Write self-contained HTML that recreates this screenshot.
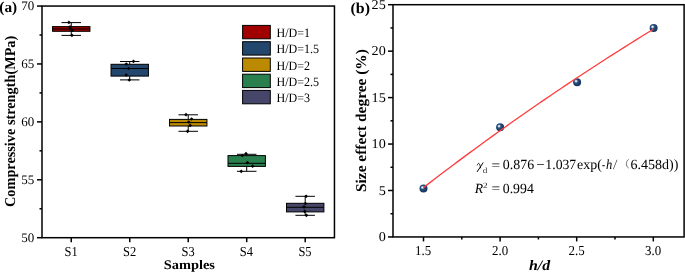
<!DOCTYPE html>
<html><head><meta charset="utf-8"><style>
html,body{margin:0;padding:0;background:#fff;width:685px;height:272px;overflow:hidden}
svg{display:block}
text{font-family:"Liberation Serif",serif}
</style></head><body>
<svg width="685" height="272" viewBox="0 0 685 272" text-rendering="geometricPrecision" style="will-change:transform"><defs><radialGradient id="sph" cx="0.4" cy="0.4" r="0.65" fx="0.36" fy="0.36">
<stop offset="0" stop-color="#ffffff"/><stop offset="0.15" stop-color="#c4d2e2"/><stop offset="0.36" stop-color="#284f7e"/><stop offset="0.7" stop-color="#1b3e69"/><stop offset="1" stop-color="#14335a"/></radialGradient></defs><line x1="71.25" y1="22.6" x2="71.25" y2="26.6" stroke="#000" stroke-width="1"/>
<line x1="71.25" y1="31.3" x2="71.25" y2="35.4" stroke="#000" stroke-width="1"/>
<line x1="61.50" y1="22.6" x2="81.00" y2="22.6" stroke="#000" stroke-width="1"/>
<line x1="61.50" y1="35.4" x2="81.00" y2="35.4" stroke="#000" stroke-width="1"/>
<rect x="52.55" y="26.6" width="37.4" height="4.70" fill="#A00000" stroke="#000" stroke-width="1"/>
<line x1="52.55" y1="29.0" x2="89.95" y2="29.0" stroke="#000" stroke-width="1"/>
<path d="M68.9,20.55L70.75,22.4L68.9,24.25L67.05,22.4Z" fill="#000"/>
<path d="M70.0,25.05L71.85,26.9L70.0,28.75L68.15,26.9Z" fill="#000"/>
<path d="M70.1,26.85L71.95,28.7L70.1,30.55L68.25,28.7Z" fill="#000"/>
<path d="M72.2,28.65L74.05,30.5L72.2,32.35L70.35,30.5Z" fill="#000"/>
<path d="M71.9,33.45L73.75,35.3L71.9,37.15L70.05,35.3Z" fill="#000"/>
<line x1="129.73" y1="61.5" x2="129.73" y2="64.3" stroke="#000" stroke-width="1"/>
<line x1="129.73" y1="76.1" x2="129.73" y2="79.9" stroke="#000" stroke-width="1"/>
<line x1="119.98" y1="61.5" x2="139.48" y2="61.5" stroke="#000" stroke-width="1"/>
<line x1="119.98" y1="79.9" x2="139.48" y2="79.9" stroke="#000" stroke-width="1"/>
<rect x="111.03" y="64.3" width="37.4" height="11.80" fill="#23476C" stroke="#000" stroke-width="1"/>
<line x1="111.03" y1="68.5" x2="148.43" y2="68.5" stroke="#000" stroke-width="1"/>
<path d="M133.5,59.45L135.35,61.3L133.5,63.15L131.65,61.3Z" fill="#000"/>
<path d="M126.3,62.15L128.15,64.0L126.3,65.85L124.45,64.0Z" fill="#000"/>
<path d="M128.5,66.65L130.35,68.5L128.5,70.35L126.65,68.5Z" fill="#000"/>
<path d="M126.2,73.15L128.05,75.0L126.2,76.85L124.35,75.0Z" fill="#000"/>
<path d="M129.3,78.15L131.15,80.0L129.3,81.85L127.45,80.0Z" fill="#000"/>
<line x1="188.22" y1="114.8" x2="188.22" y2="119.4" stroke="#000" stroke-width="1"/>
<line x1="188.22" y1="126.0" x2="188.22" y2="131.3" stroke="#000" stroke-width="1"/>
<line x1="178.47" y1="114.8" x2="197.97" y2="114.8" stroke="#000" stroke-width="1"/>
<line x1="178.47" y1="131.3" x2="197.97" y2="131.3" stroke="#000" stroke-width="1"/>
<rect x="169.53" y="119.4" width="37.4" height="6.60" fill="#BB8A00" stroke="#000" stroke-width="1"/>
<line x1="169.53" y1="122.6" x2="206.92" y2="122.6" stroke="#000" stroke-width="1"/>
<path d="M186.0,112.85L187.85,114.7L186.0,116.55L184.15,114.7Z" fill="#000"/>
<path d="M191.6,117.15L193.45,119.0L191.6,120.85L189.75,119.0Z" fill="#000"/>
<path d="M188.7,120.15L190.55,122.0L188.7,123.85L186.85,122.0Z" fill="#000"/>
<path d="M190.1,123.55L191.95,125.4L190.1,127.25L188.25,125.4Z" fill="#000"/>
<path d="M187.6,129.45L189.45,131.3L187.6,133.15L185.75,131.3Z" fill="#000"/>
<line x1="246.71" y1="154.3" x2="246.71" y2="155.6" stroke="#000" stroke-width="1"/>
<line x1="246.71" y1="166.4" x2="246.71" y2="171.3" stroke="#000" stroke-width="1"/>
<line x1="236.96" y1="154.3" x2="256.46" y2="154.3" stroke="#000" stroke-width="1"/>
<line x1="236.96" y1="171.3" x2="256.46" y2="171.3" stroke="#000" stroke-width="1"/>
<rect x="228.01" y="155.6" width="37.4" height="10.80" fill="#2A7F4E" stroke="#000" stroke-width="1"/>
<line x1="228.01" y1="163.3" x2="265.41" y2="163.3" stroke="#000" stroke-width="1"/>
<path d="M246.0,151.85L247.85,153.7L246.0,155.55L244.15,153.7Z" fill="#000"/>
<path d="M242.3,153.65L244.15,155.5L242.3,157.35L240.45,155.5Z" fill="#000"/>
<path d="M247.4,160.75L249.25,162.6L247.4,164.45L245.55,162.6Z" fill="#000"/>
<path d="M252.6,164.35L254.45,166.2L252.6,168.05L250.75,166.2Z" fill="#000"/>
<path d="M241.2,169.45L243.05,171.3L241.2,173.15L239.35,171.3Z" fill="#000"/>
<line x1="305.20" y1="196.3" x2="305.20" y2="203.3" stroke="#000" stroke-width="1"/>
<line x1="305.20" y1="211.9" x2="305.20" y2="215.3" stroke="#000" stroke-width="1"/>
<line x1="295.45" y1="196.3" x2="314.95" y2="196.3" stroke="#000" stroke-width="1"/>
<line x1="295.45" y1="215.3" x2="314.95" y2="215.3" stroke="#000" stroke-width="1"/>
<rect x="286.50" y="203.3" width="37.4" height="8.60" fill="#46466A" stroke="#000" stroke-width="1"/>
<line x1="286.50" y1="207.3" x2="323.90" y2="207.3" stroke="#000" stroke-width="1"/>
<path d="M306.1,194.45L307.95,196.3L306.1,198.15L304.25,196.3Z" fill="#000"/>
<path d="M305.4,201.65L307.25,203.5L305.4,205.35L303.55,203.5Z" fill="#000"/>
<path d="M304.0,205.05L305.85,206.9L304.0,208.75L302.15,206.9Z" fill="#000"/>
<path d="M304.7,209.45L306.55,211.3L304.7,213.15L302.85,211.3Z" fill="#000"/>
<path d="M306.4,213.45L308.25,215.3L306.4,217.15L304.55,215.3Z" fill="#000"/>
<rect x="42.0" y="6.05" width="292.45" height="231.65" fill="none" stroke="#000" stroke-width="1.5"/>
<line x1="37.0" y1="237.70" x2="42.0" y2="237.70" stroke="#000" stroke-width="1.5"/>
<line x1="37.0" y1="179.79" x2="42.0" y2="179.79" stroke="#000" stroke-width="1.5"/>
<line x1="37.0" y1="121.88" x2="42.0" y2="121.88" stroke="#000" stroke-width="1.5"/>
<line x1="37.0" y1="63.96" x2="42.0" y2="63.96" stroke="#000" stroke-width="1.5"/>
<line x1="37.0" y1="6.05" x2="42.0" y2="6.05" stroke="#000" stroke-width="1.5"/>
<line x1="39.5" y1="208.74" x2="42.0" y2="208.74" stroke="#000" stroke-width="1.5"/>
<line x1="39.5" y1="150.83" x2="42.0" y2="150.83" stroke="#000" stroke-width="1.5"/>
<line x1="39.5" y1="92.92" x2="42.0" y2="92.92" stroke="#000" stroke-width="1.5"/>
<line x1="39.5" y1="35.01" x2="42.0" y2="35.01" stroke="#000" stroke-width="1.5"/>
<line x1="71.25" y1="237.7" x2="71.25" y2="242.2" stroke="#000" stroke-width="1.5"/>
<line x1="129.73" y1="237.7" x2="129.73" y2="242.2" stroke="#000" stroke-width="1.5"/>
<line x1="188.22" y1="237.7" x2="188.22" y2="242.2" stroke="#000" stroke-width="1.5"/>
<line x1="246.71" y1="237.7" x2="246.71" y2="242.2" stroke="#000" stroke-width="1.5"/>
<line x1="305.20" y1="237.7" x2="305.20" y2="242.2" stroke="#000" stroke-width="1.5"/>
<rect x="242.6" y="25.4" width="27.7" height="13.4" fill="#A00000" stroke="#000" stroke-width="1"/>
<rect x="242.6" y="41.7" width="27.7" height="13.4" fill="#23476C" stroke="#000" stroke-width="1"/>
<rect x="242.6" y="58.0" width="27.7" height="13.4" fill="#BB8A00" stroke="#000" stroke-width="1"/>
<rect x="242.6" y="74.2" width="27.7" height="13.4" fill="#2A7F4E" stroke="#000" stroke-width="1"/>
<rect x="242.6" y="90.4" width="27.7" height="13.4" fill="#46466A" stroke="#000" stroke-width="1"/>
<circle cx="423.5" cy="188.5" r="4" fill="url(#sph)"/>
<circle cx="500.1" cy="127.2" r="4" fill="url(#sph)"/>
<circle cx="577.1" cy="82.2" r="4" fill="url(#sph)"/>
<circle cx="653.6" cy="27.9" r="4" fill="url(#sph)"/>
<polyline points="423.50,187.54 429.25,183.12 434.99,178.72 440.74,174.35 446.48,170.01 452.23,165.69 457.97,161.39 463.71,157.12 469.46,152.88 475.20,148.66 480.95,144.46 486.69,140.29 492.44,136.14 498.19,132.02 503.93,127.91 509.68,123.84 515.42,119.79 521.16,115.76 526.91,111.75 532.65,107.77 538.40,103.81 544.14,99.87 549.89,95.96 555.63,92.06 561.38,88.20 567.12,84.35 572.87,80.52 578.62,76.72 584.36,72.94 590.11,69.18 595.85,65.45 601.60,61.73 607.34,58.04 613.08,54.37 618.83,50.72 624.57,47.09 630.32,43.48 636.06,39.89 641.81,36.32 647.55,32.78 653.30,29.25" fill="none" stroke="#ff3b3b" stroke-width="1.3"/>
<rect x="393.0" y="4.7" width="291.10" height="232.25" fill="none" stroke="#000" stroke-width="1.5"/>
<line x1="388.0" y1="236.95" x2="393.0" y2="236.95" stroke="#000" stroke-width="1.5"/>
<line x1="388.0" y1="190.50" x2="393.0" y2="190.50" stroke="#000" stroke-width="1.5"/>
<line x1="388.0" y1="144.05" x2="393.0" y2="144.05" stroke="#000" stroke-width="1.5"/>
<line x1="388.0" y1="97.60" x2="393.0" y2="97.60" stroke="#000" stroke-width="1.5"/>
<line x1="388.0" y1="51.15" x2="393.0" y2="51.15" stroke="#000" stroke-width="1.5"/>
<line x1="388.0" y1="4.70" x2="393.0" y2="4.70" stroke="#000" stroke-width="1.5"/>
<line x1="390.5" y1="213.72" x2="393.0" y2="213.72" stroke="#000" stroke-width="1.5"/>
<line x1="390.5" y1="167.27" x2="393.0" y2="167.27" stroke="#000" stroke-width="1.5"/>
<line x1="390.5" y1="120.82" x2="393.0" y2="120.82" stroke="#000" stroke-width="1.5"/>
<line x1="390.5" y1="74.38" x2="393.0" y2="74.38" stroke="#000" stroke-width="1.5"/>
<line x1="390.5" y1="27.92" x2="393.0" y2="27.92" stroke="#000" stroke-width="1.5"/>
<line x1="423.50" y1="236.95" x2="423.50" y2="241.45" stroke="#000" stroke-width="1.5"/>
<line x1="500.10" y1="236.95" x2="500.10" y2="241.45" stroke="#000" stroke-width="1.5"/>
<line x1="576.70" y1="236.95" x2="576.70" y2="241.45" stroke="#000" stroke-width="1.5"/>
<line x1="653.30" y1="236.95" x2="653.30" y2="241.45" stroke="#000" stroke-width="1.5"/>
<line x1="461.80" y1="236.95" x2="461.80" y2="239.45" stroke="#000" stroke-width="1.5"/>
<line x1="538.40" y1="236.95" x2="538.40" y2="239.45" stroke="#000" stroke-width="1.5"/>
<line x1="615.00" y1="236.95" x2="615.00" y2="239.45" stroke="#000" stroke-width="1.5"/>
<path d="M477.3,165.0 C477.7,163.6 478.6,163.0 479.2,163.7 C479.8,164.5 480.2,166.3 480.6,167.9" fill="none" stroke="#000" stroke-width="0.85" stroke-linecap="round"/>
<path d="M483.0,162.9 L477.3,171.6" fill="none" stroke="#000" stroke-width="1.0" stroke-linecap="round"/>
<path d="M628.7,159.4 C625.6,161.2 625.6,166.3 628.7,168.1" fill="none" stroke="#333" stroke-width="0.7"/>
<text x="21.31" y="241.70" font-size="13.0">50</text>
<text x="21.31" y="183.79" font-size="13.0">55</text>
<text x="21.31" y="125.88" font-size="13.0">60</text>
<text x="21.31" y="67.96" font-size="13.0">65</text>
<text x="21.31" y="10.05" font-size="13.0">70</text>
<text transform="translate(64.56,255.80) scale(0.9100,1)" font-size="13.7">S1</text>
<text transform="translate(123.05,255.80) scale(0.9100,1)" font-size="13.7">S2</text>
<text transform="translate(181.45,255.80) scale(0.9100,1)" font-size="13.7">S3</text>
<text transform="translate(239.84,255.80) scale(0.9100,1)" font-size="13.7">S4</text>
<text transform="translate(298.43,255.80) scale(0.9100,1)" font-size="13.7">S5</text>
<text transform="translate(163.73,268.70) scale(1.0986,1)" font-size="13.1" font-weight="bold">Samples</text>
<text transform="translate(15.30,206.97) rotate(-90) scale(0.9522,1)" font-size="15" font-weight="bold">Compressive strength(MPa)</text>
<text transform="translate(-0.68,11.50) scale(1.0127,1)" font-size="15.1" font-weight="bold">(a)</text>
<text transform="translate(276.51,36.90) scale(0.9400,1)" font-size="12.8">H/D=1</text>
<text transform="translate(276.51,53.20) scale(0.9400,1)" font-size="12.8">H/D=1.5</text>
<text transform="translate(276.51,69.50) scale(0.9400,1)" font-size="12.8">H/D=2</text>
<text transform="translate(276.51,85.70) scale(0.9400,1)" font-size="12.8">H/D=2.5</text>
<text transform="translate(276.51,101.90) scale(0.9400,1)" font-size="12.8">H/D=3</text>
<text transform="translate(378.66,240.95) scale(1.0500,1)" font-size="13.5">0</text>
<text transform="translate(378.66,194.50) scale(1.0500,1)" font-size="13.5">5</text>
<text transform="translate(371.57,148.05) scale(1.0500,1)" font-size="13.5">10</text>
<text transform="translate(371.57,101.60) scale(1.0500,1)" font-size="13.5">15</text>
<text transform="translate(371.57,55.15) scale(1.0500,1)" font-size="13.5">20</text>
<text transform="translate(371.57,8.70) scale(1.0500,1)" font-size="13.5">25</text>
<text transform="translate(415.12,255.40) scale(0.9500,1)" font-size="13.6">1.5</text>
<text transform="translate(492.02,255.40) scale(0.9500,1)" font-size="13.6">2.0</text>
<text transform="translate(568.62,255.40) scale(0.9500,1)" font-size="13.6">2.5</text>
<text transform="translate(645.12,255.40) scale(0.9500,1)" font-size="13.6">3.0</text>
<text transform="translate(528.95,269.80) scale(1.1036,1)" font-size="14.4" font-weight="bold" font-style="italic">h/d</text>
<text transform="translate(365.90,192.02) rotate(-90) scale(1.0262,1)" font-size="15" font-weight="bold">Size effect degree (%)</text>
<text transform="translate(350.50,12.60) scale(1.0483,1)" font-size="15.2" font-weight="bold">(b)</text>
<text transform="translate(482.71,173.20) scale(1.1467,1)" font-size="8" fill="#333">d</text>
<text transform="translate(491.48,169.80) scale(1.0971,1)" font-size="14">=</text>
<text transform="translate(502.76,169.10) scale(0.9953,1)" font-size="14">0.876</text>
<text transform="translate(536.20,169.10) scale(1.0667,1)" font-size="14">−</text>
<text transform="translate(545.33,169.10) scale(0.9805,1)" font-size="14">1.037</text>
<text transform="translate(576.96,169.10) scale(0.9979,1)" font-size="14">exp(</text>
<text transform="translate(602.01,169.10) scale(0.6723,1)" font-size="14" font-style="italic">-</text>
<text transform="translate(605.91,169.10) scale(0.8980,1)" font-size="14" font-style="italic">h</text>
<text transform="translate(613.41,169.10) scale(0.7736,1)" font-size="14" font-style="italic">/</text>
<text transform="translate(630.46,169.10) scale(1.0004,1)" font-size="14">6.458d))</text>
<text transform="translate(474.81,192.50) scale(0.9829,1)" font-size="14" font-style="italic">R</text>
<text transform="translate(483.01,188.30) scale(1.1556,1)" font-size="8" fill="#222">2</text>
<text transform="translate(491.48,193.20) scale(1.0971,1)" font-size="14">=</text>
<text transform="translate(502.77,192.50) scale(0.9856,1)" font-size="14">0.994</text></svg>
</body></html>
